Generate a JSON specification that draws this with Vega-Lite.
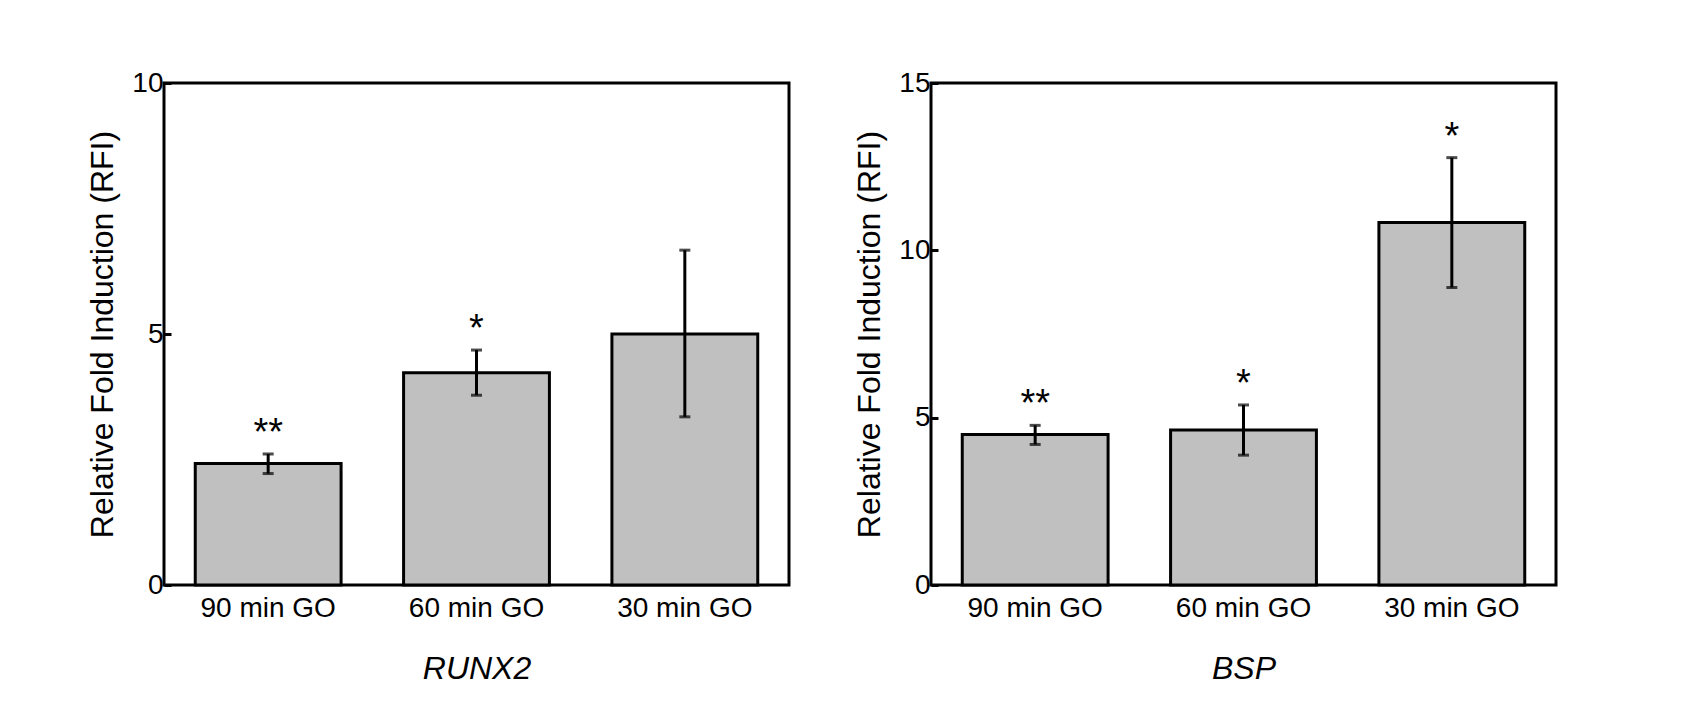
{
  "$schema": "https://vega.github.io/schema/vega-lite/v6.json",
  "padding": {"left": 85, "top": 67, "right": 0, "bottom": 0},
  "background": "white",
  "datasets": {
    "bars": [
      {"gene": "RUNX2", "group": "90 min GO", "value": 2.42, "lo": 2.22, "hi": 2.61, "star": "**"},
      {"gene": "RUNX2", "group": "60 min GO", "value": 4.23, "lo": 3.78, "hi": 4.68, "star": "*"},
      {"gene": "RUNX2", "group": "30 min GO", "value": 5.0, "lo": 3.35, "hi": 6.67, "star": ""},
      {"gene": "BSP", "group": "90 min GO", "value": 4.5, "lo": 4.2, "hi": 4.77, "star": "**"},
      {"gene": "BSP", "group": "60 min GO", "value": 4.63, "lo": 3.88, "hi": 5.38, "star": "*"},
      {"gene": "BSP", "group": "30 min GO", "value": 10.83, "lo": 8.89, "hi": 12.77, "star": "*"}
    ]
  },
  "hconcat": [
    {
      "width": 625,
      "height": 502,
      "data": {"name": "bars"},
      "transform": [{"filter": "datum.gene == 'RUNX2'"}],
      "encoding": {
        "x": {"field": "group", "type": "nominal", "sort": ["90 min GO", "60 min GO", "30 min GO"],
              "scale": {"paddingInner": 0.3, "paddingOuter": 0.15},
              "axis": {"title": "RUNX2"}}
      },
      "layer": [
        {"mark": {"type": "bar", "fill": "#c0c0c0", "stroke": "black", "strokeWidth": 3},
         "encoding": {"y": {"field": "value", "type": "quantitative", "title": "Relative Fold Induction (RFI)",
                            "scale": {"domain": [0, 10], "nice": false}, "axis": {"values": [0, 5, 10]}}}},
        {"mark": {"type": "rule", "stroke": "black", "strokeWidth": 3},
         "encoding": {"y": {"field": "lo", "type": "quantitative", "title": "Relative Fold Induction (RFI)"}, "y2": {"field": "hi"}}},
        {"mark": {"type": "tick", "color": "black", "thickness": 3, "size": 11},
         "encoding": {"y": {"field": "lo", "type": "quantitative", "title": "Relative Fold Induction (RFI)"}}},
        {"mark": {"type": "tick", "color": "black", "thickness": 3, "size": 11},
         "encoding": {"y": {"field": "hi", "type": "quantitative", "title": "Relative Fold Induction (RFI)"}}},
        {"mark": {"type": "text", "fontSize": 38, "font": "Liberation Sans", "baseline": "alphabetic", "dy": -9, "color": "black"},
         "encoding": {"y": {"field": "hi", "type": "quantitative", "title": "Relative Fold Induction (RFI)"}, "text": {"field": "star"}}}
      ]
    },
    {
      "width": 625,
      "height": 502,
      "data": {"name": "bars"},
      "transform": [{"filter": "datum.gene == 'BSP'"}],
      "encoding": {
        "x": {"field": "group", "type": "nominal", "sort": ["90 min GO", "60 min GO", "30 min GO"],
              "scale": {"paddingInner": 0.3, "paddingOuter": 0.15},
              "axis": {"title": "BSP"}}
      },
      "layer": [
        {"mark": {"type": "bar", "fill": "#c0c0c0", "stroke": "black", "strokeWidth": 3},
         "encoding": {"y": {"field": "value", "type": "quantitative", "title": "Relative Fold Induction (RFI)",
                            "scale": {"domain": [0, 15], "nice": false}, "axis": {"values": [0, 5, 10, 15]}}}},
        {"mark": {"type": "rule", "stroke": "black", "strokeWidth": 3},
         "encoding": {"y": {"field": "lo", "type": "quantitative", "title": "Relative Fold Induction (RFI)"}, "y2": {"field": "hi"}}},
        {"mark": {"type": "tick", "color": "black", "thickness": 3, "size": 11},
         "encoding": {"y": {"field": "lo", "type": "quantitative", "title": "Relative Fold Induction (RFI)"}}},
        {"mark": {"type": "tick", "color": "black", "thickness": 3, "size": 11},
         "encoding": {"y": {"field": "hi", "type": "quantitative", "title": "Relative Fold Induction (RFI)"}}},
        {"mark": {"type": "text", "fontSize": 38, "font": "Liberation Sans", "baseline": "alphabetic", "dy": -9, "color": "black"},
         "encoding": {"y": {"field": "hi", "type": "quantitative", "title": "Relative Fold Induction (RFI)"}, "text": {"field": "star"}}}
      ]
    }
  ],
  "spacing": 142,
  "bounds": "flush",
  "config": {
    "font": "Liberation Sans",
    "view": {"stroke": "black", "strokeWidth": 3},
    "axis": {"labelFont": "Liberation Sans", "titleFont": "Liberation Sans", "labelColor": "black", "titleColor": "black",
             "grid": false, "domain": false, "titleFontWeight": "normal"},
    "axisX": {"ticks": false, "labelAngle": 0, "labelFontSize": 28, "labelPadding": 9,
              "titleFontSize": 32, "titleFontStyle": "italic", "titlePadding": 31},
    "axisY": {"tickSize": -7, "tickWidth": 3, "tickColor": "black", "labelFontSize": 28, "labelPadding": 8,
              "titleFontSize": 32, "titlePadding": 12}
  }
}
